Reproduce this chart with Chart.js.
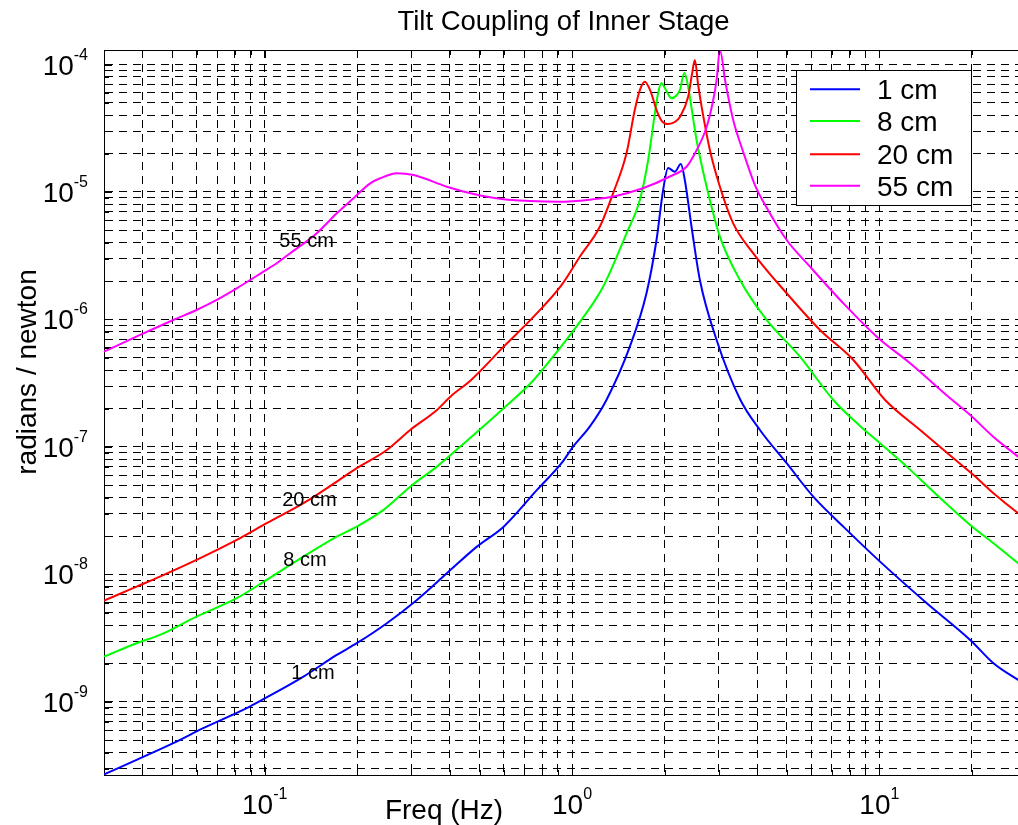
<!DOCTYPE html>
<html><head><meta charset="utf-8">
<script src="https://cdn.jsdelivr.net/npm/chart.js@4.4.1/dist/chart.umd.min.js"></script>
<style>html,body{margin:0;padding:0;overflow:hidden;background:#fff}canvas{display:block}</style>
</head><body>
<canvas id="c" width="1040" height="825"></canvas>
<script>
// ---- data ----
const seriesLabels = ['1 cm', '8 cm', '20 cm', '55 cm'];
const seriesColors = ['#0000ff', '#00ff00', '#ff0000', '#ff00ff'];

const freq1 = [0.03, 0.0383, 0.0504, 0.0631, 0.0874, 0.099, 0.1337, 0.1716, 0.1993, 0.2497, 0.3127, 0.3915, 0.4904, 0.5992, 0.7691, 0.9256, 1.008, 1.142, 1.294, 1.542, 1.747, 1.883, 1.979, 2.054, 2.160, 2.260, 2.328, 2.448, 2.606, 2.954, 3.518, 4.087, 4.993, 6.095, 7.633, 10.05, 14.27, 19.75, 23.51, 28.3, 30];
const mag1 = [2.7e-10, 3.508e-10, 4.745e-10, 6.22e-10, 8.93e-10, 1.05e-9, 1.579e-9, 2.336e-9, 2.886e-9, 4.143e-9, 6.31e-9, 1.022e-8, 1.652e-8, 2.37e-8, 4.6e-8, 7.49e-8, 1.006e-7, 1.443e-7, 2.336e-7, 6.12e-7, 1.605e-6, 4.203e-6, 1.037e-5, 1.542e-5, 1.442e-5, 1.658e-5, 1.242e-5, 5.34e-6, 2.04e-6, 6.906e-7, 2.379e-7, 1.359e-7, 7.45e-8, 4.076e-8, 2.37e-8, 1.26e-8, 5.943e-9, 3.064e-9, 2.011e-9, 1.487e-9, 1.359e-9];

const freq8 = [0.03, 0.0383, 0.0456, 0.06, 0.0811, 0.1015, 0.1337, 0.1716, 0.1993, 0.2436, 0.2976, 0.3634, 0.4329, 0.5992, 0.7503, 0.912, 1.033, 1.262, 1.504, 1.662, 1.769, 1.860, 1.909, 1.956, 2.004, 2.108, 2.193, 2.243, 2.320, 2.382, 2.417, 2.542, 2.741, 3.028, 3.518, 4.298, 5.516, 7.084, 8.65, 10.05, 12.28, 15.38, 19.75, 23.51, 28.3, 30];
const mag8 = [2.265e-9, 2.886e-9, 3.353e-9, 4.667e-9, 6.505e-9, 9.06e-9, 1.379e-8, 1.979e-8, 2.37e-8, 3.206e-8, 4.88e-8, 7.008e-8, 1.006e-7, 2.011e-7, 3.353e-7, 5.943e-7, 8.78e-7, 1.808e-6, 4.745e-6, 8.66e-6, 1.782e-5, 4.143e-5, 6.085e-5, 7.12e-5, 6.54e-5, 5.43e-5, 5.765e-5, 6.31e-5, 8.58e-5, 6.91e-5, 5.59e-5, 2.557e-5, 1.100e-5, 4.461e-6, 2.04e-6, 9.91e-7, 5.108e-7, 2.336e-7, 1.461e-7, 1.069e-7, 7.008e-8, 4.202e-8, 2.444e-8, 1.757e-8, 1.224e-8, 1.104e-8];

const freq20 = [0.03, 0.0383, 0.0456, 0.06, 0.0811, 0.1015, 0.1337, 0.1716, 0.1993, 0.2497, 0.2976, 0.3634, 0.4018, 0.4696, 0.5992, 0.7503, 0.9256, 1.060, 1.231, 1.360, 1.504, 1.600, 1.662, 1.725, 1.805, 1.883, 1.960, 2.054, 2.160, 2.243, 2.387, 2.454, 2.510, 2.573, 2.640, 2.809, 3.028, 3.345, 3.888, 4.993, 6.41, 8.228, 10.44, 13.57, 17.42, 20.24, 23.51, 28.3, 30];
const mag20 = [6.23e-9, 8.02e-9, 9.61e-9, 1.299e-8, 1.865e-8, 2.521e-8, 3.618e-8, 5.344e-8, 6.81e-8, 9.47e-8, 1.359e-7, 1.951e-7, 2.48e-7, 3.353e-7, 6.12e-7, 1.052e-6, 1.865e-6, 3.108e-6, 5.34e-6, 9.77e-6, 2.011e-5, 4.395e-5, 6.3e-5, 7.33e-5, 6.085e-5, 4.395e-5, 3.605e-5, 3.415e-5, 3.54e-5, 3.875e-5, 5.59e-5, 8.27e-5, 1.085e-4, 6.91e-5, 4.67e-5, 2.135e-5, 1.100e-5, 5.68e-6, 3.305e-6, 1.605e-6, 8.27e-7, 4.813e-7, 2.336e-7, 1.359e-7, 8.15e-8, 6.03e-8, 4.333e-8, 3.02e-8, 2.73e-8];

const freq55 = [0.03, 0.0393, 0.0504, 0.06, 0.0681, 0.0811, 0.099, 0.1094, 0.121, 0.1477, 0.1716, 0.1945, 0.2204, 0.2376, 0.2692, 0.305, 0.3915, 0.4713, 0.5992, 0.7283, 0.912, 1.168, 1.357, 1.70, 2.081, 2.358, 2.473, 2.741, 2.880, 2.954, 3.028, 3.155, 3.345, 3.606, 3.937, 4.341, 4.993, 5.948, 7.633, 9.806, 12.59, 17.0, 19.75, 23.47, 28.3, 30];
const mag55 = [5.59e-7, 7.56e-7, 9.91e-7, 1.187e-6, 1.379e-6, 1.757e-6, 2.371e-6, 2.76e-6, 3.305e-6, 4.745e-6, 6.81e-6, 8.93e-6, 1.170e-5, 1.281e-5, 1.402e-5, 1.359e-5, 1.100e-5, 9.73e-6, 8.76e-6, 8.50e-6, 8.39e-6, 8.76e-6, 9.19e-6, 1.069e-5, 1.323e-5, 1.579e-5, 1.88e-5, 3.235e-5, 5.27e-5, 7.556e-5, 1.30e-4, 7.29e-5, 3.67e-5, 2.06e-5, 1.134e-5, 7.225e-6, 4.203e-6, 2.595e-6, 1.340e-6, 7.33e-7, 4.534e-7, 2.41e-7, 1.782e-7, 1.204e-7, 8.39e-8, 7.49e-8];

const xTickExponents = [-1, 0, 1];
const yTickExponents = [-9, -8, -7, -6, -5, -4];
const noteTexts = ['55 cm', '20 cm', '8 cm', '1 cm'];
const noteFreqs = [0.1116, 0.114, 0.115, 0.122];
const noteValues = [4.2e-6, 3.9e-8, 1.32e-8, 1.72e-9];

const titleText = 'Tilt Coupling of Inner Stage';
const xTitle = 'Freq (Hz)';
const yTitle = 'radians / newton';
const xMin = 0.03, xMax = 30, yMin = 2.67e-10, yMax = 1.3e-4;

// ---- chart ----
const FONT = '"Liberation Sans", Arial, Helvetica, sans-serif';

function logTicks(min, max) {
  const out = [];
  for (let e = Math.floor(Math.log10(min)); e <= Math.ceil(Math.log10(max)); e++) {
    for (let k = 1; k <= 9; k++) {
      const v = k * Math.pow(10, e);
      if (v > min * 1.0001 && v < max * 0.9999) out.push({ value: v, major: k === 1 });
    }
  }
  return out;
}

function drawPow(ctx, exp, x, baseY, align) {
  const b = '10', s = String(exp);
  ctx.font = '28px ' + FONT; const wb = ctx.measureText(b).width;
  ctx.font = '16px ' + FONT; const ws = ctx.measureText(s).width;
  const total = wb + ws;
  const left = align === 'center' ? x - total / 2 : x - total;
  ctx.textAlign = 'left'; ctx.textBaseline = 'alphabetic';
  ctx.font = '28px ' + FONT; ctx.fillText(b, left, baseY);
  ctx.font = '16px ' + FONT; ctx.fillText(s, left + wb, baseY - 15);
}

const deco = {
  id: 'deco',
  afterDatasetsDraw(chart) {
    const { ctx, chartArea: a, scales: { x, y } } = chart;
    ctx.save();
    ctx.strokeStyle = '#000'; ctx.lineWidth = 1;
    ctx.beginPath();
    ctx.moveTo(a.left, Math.round(a.top) + 0.5); ctx.lineTo(a.right, Math.round(a.top) + 0.5);
    ctx.moveTo(Math.round(a.right) + 0.5, a.top); ctx.lineTo(Math.round(a.right) + 0.5, a.bottom);
    ctx.stroke();
    ctx.beginPath();
    x.ticks.forEach(t => {
      const px = Math.round(x.getPixelForValue(t.value)) + 0.5, L = t.major ? 8 : 5;
      ctx.moveTo(px, a.top); ctx.lineTo(px, a.top + L);
      ctx.moveTo(px, a.bottom); ctx.lineTo(px, a.bottom - L);
    });
    y.ticks.forEach(t => {
      const py = Math.round(y.getPixelForValue(t.value)) + 0.5, L = t.major ? 8 : 5;
      ctx.moveTo(a.left, py); ctx.lineTo(a.left + L, py);
      ctx.moveTo(a.right, py); ctx.lineTo(a.right - L, py);
    });
    ctx.stroke();
    ctx.fillStyle = '#000';
    ctx.font = '20px ' + FONT; ctx.textAlign = 'left'; ctx.textBaseline = 'alphabetic';
    noteTexts.forEach((t, i) => {
      ctx.fillText(t, x.getPixelForValue(noteFreqs[i]), y.getPixelForValue(noteValues[i]) + 7);
    });
    ctx.restore();
  },
  afterDraw(chart) {
    const { ctx, scales: { x, y } } = chart;
    ctx.save();
    ctx.fillStyle = '#000';
    xTickExponents.forEach(e => drawPow(ctx, e, x.getPixelForValue(Math.pow(10, e)), 814, 'center'));
    yTickExponents.forEach(e => drawPow(ctx, e, 88, y.getPixelForValue(Math.pow(10, e)) + 10, 'right'));
    ctx.font = '27.5px ' + FONT; ctx.textAlign = 'center'; ctx.textBaseline = 'alphabetic';
    ctx.fillText(titleText, 563.5, 30);
    ctx.font = '28px ' + FONT;
    ctx.fillText(xTitle, 444, 819);
    ctx.save();
    ctx.translate(36, 372); ctx.rotate(-Math.PI / 2);
    ctx.fillText(yTitle, 0, 0);
    ctx.restore();
    const lx = 796, ly = 70, lw = 175, lh = 135;
    ctx.fillStyle = '#fff'; ctx.fillRect(lx, ly, lw, lh);
    ctx.strokeStyle = '#000'; ctx.lineWidth = 1;
    ctx.strokeRect(lx + 0.5, ly + 0.5, lw, lh);
    const rows = [89.3, 121, 154.3, 185.7];
    chart.data.datasets.forEach((ds, i) => {
      ctx.strokeStyle = ds.borderColor; ctx.lineWidth = 2;
      ctx.beginPath(); ctx.moveTo(810, rows[i]); ctx.lineTo(860, rows[i]); ctx.stroke();
      ctx.fillStyle = '#000'; ctx.font = '28px ' + FONT; ctx.textAlign = 'left';
      ctx.fillText(ds.label, 877, rows[i] + 10);
    });
    ctx.restore();
  }
};

const freqs = [freq1, freq8, freq20, freq55];
const mags = [mag1, mag8, mag20, mag55];
const datasets = seriesLabels.map((lab, i) => ({
  label: lab,
  data: freqs[i].map((f, j) => ({ x: f, y: mags[i][j] })),
  borderColor: seriesColors[i],
  backgroundColor: seriesColors[i],
  borderWidth: 2,
  pointRadius: 0,
  cubicInterpolationMode: 'monotone',
  fill: false,
  order: 4 - i
}));

new Chart(document.getElementById('c').getContext('2d'), {
  type: 'line',
  data: { datasets },
  options: {
    responsive: false,
    animation: false,
    devicePixelRatio: 1,
    layout: { padding: { top: 50, right: 14, left: 0, bottom: 0 } },
    plugins: { legend: { display: false }, title: { display: false }, tooltip: { enabled: false } },
    scales: {
      x: {
        type: 'logarithmic', position: 'bottom', min: xMin, max: xMax, bounds: 'data',
        ticks: { display: false },
        grid: { color: '#000', lineWidth: 1, drawTicks: false },
        border: { display: true, color: '#000', width: 1, dash: [8, 6] },
        afterBuildTicks: s => { s.ticks = logTicks(xMin, xMax); },
        afterFit: s => { s.height = 50; }
      },
      y: {
        type: 'logarithmic', position: 'left', min: yMin, max: yMax, bounds: 'data',
        ticks: { display: false },
        grid: { color: '#000', lineWidth: 1, drawTicks: false },
        border: { display: true, color: '#000', width: 1, dash: [8, 6] },
        afterBuildTicks: s => { s.ticks = logTicks(yMin, yMax); },
        afterFit: s => { s.width = 104; }
      }
    }
  },
  plugins: [deco]
});
</script>
</body></html>
